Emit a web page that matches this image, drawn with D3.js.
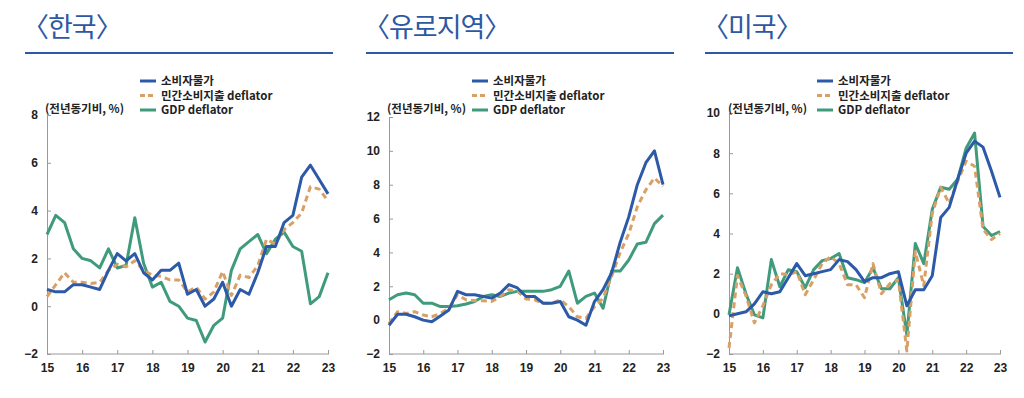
<!DOCTYPE html>
<html>
<head>
<meta charset="utf-8">
<script src="https://cdn.jsdelivr.net/npm/d3@7"></script>
<style>
  body { margin: 0; background: #fff; }
  svg { display: block; font-family: "Noto Sans CJK KR", "Noto Sans", sans-serif; }
  .tick text { font-size: 12px; font-weight: 700; fill: #222; }
  .domain, .tick line { stroke: #999; }
</style>
</head>
<body>
<div id="chart"></div>
<script>
// quarterly, 2015Q1 ~ 2023Q1 (전년동기비, %)
var legendNames = ["소비자물가", "민간소비지출 deflator", "GDP deflator"];
var xTicks = [15, 16, 17, 18, 19, 20, 21, 22, 23];

var krCpi = [0.7, 0.6, 0.6, 0.9, 0.9, 0.8, 0.7, 1.5, 2.2, 1.9, 2.2, 1.4, 1.1, 1.5, 1.5, 1.8, 0.5, 0.7, 0.0, 0.3, 1.0, 0.0, 0.7, 0.5, 1.4, 2.5, 2.5, 3.5, 3.8, 5.4, 5.9, 5.3, 4.7];
var krPce = [0.4, 0.9, 1.4, 1.0, 1.0, 0.95, 1.0, 1.5, 1.75, 1.65, 1.9, 1.5, 1.3, 1.25, 1.1, 1.1, 0.6, 0.8, 0.3, 0.6, 1.45, 0.45, 1.3, 1.2, 1.7, 2.8, 2.6, 3.2, 3.5, 3.9, 5.0, 4.9, 4.4];
var krGdp = [3.0, 3.8, 3.5, 2.4, 2.0, 1.9, 1.6, 2.4, 1.6, 1.7, 3.7, 1.8, 0.8, 1.0, 0.2, 0.0, -0.5, -0.6, -1.5, -0.8, -0.5, 1.5, 2.4, 2.7, 3.0, 2.2, 2.8, 3.1, 2.5, 2.3, 0.1, 0.4, 1.4];

var euCpi = [-0.3, 0.35, 0.35, 0.2, 0.0, -0.1, 0.25, 0.6, 1.7, 1.5, 1.5, 1.4, 1.3, 1.6, 2.1, 1.9, 1.4, 1.4, 1.0, 1.0, 1.1, 0.2, 0.0, -0.3, 1.1, 1.8, 2.8, 4.6, 6.1, 8.0, 9.3, 10.0, 8.0];
var euPce = [-0.2, 0.5, 0.4, 0.5, 0.3, 0.2, 0.4, 0.7, 1.5, 1.2, 1.15, 1.15, 1.1, 1.4, 1.8, 1.7, 1.25, 1.2, 1.0, 1.0, 1.2, 0.8, 0.2, 0.1, 0.8, 1.3, 2.6, 4.0, 5.1, 6.7, 7.7, 8.4, 7.9];
var euGdp = [1.2, 1.5, 1.6, 1.5, 1.0, 1.0, 0.8, 0.8, 0.85, 0.95, 1.1, 1.4, 1.5, 1.4, 1.6, 1.7, 1.7, 1.7, 1.7, 1.8, 2.0, 2.9, 1.0, 1.4, 1.6, 0.7, 2.9, 2.9, 3.55, 4.5, 4.6, 5.7, 6.2];

var usCpi = [-0.1, 0.0, 0.1, 0.5, 1.1, 1.0, 1.1, 1.8, 2.5, 1.9, 2.0, 2.1, 2.2, 2.7, 2.6, 2.2, 1.6, 1.8, 1.8, 2.0, 2.1, 0.4, 1.2, 1.2, 1.9, 4.8, 5.3, 6.7, 8.0, 8.6, 8.3, 7.1, 5.8];
var usPce = [-1.7, 1.9, 0.9, -0.45, 0.4, 1.45, 2.0, 1.95, 2.1, 0.95, 1.7, 2.5, 2.85, 2.5, 1.45, 1.45, 0.8, 2.5, 1.0, 1.5, 1.7, -1.85, 3.1, 1.4, 5.0, 6.3, 5.5, 6.6, 7.6, 7.35, 4.2, 3.7, 4.0];
var usGdp = [-0.05, 2.3, 1.0, -0.05, -0.2, 2.7, 1.35, 2.2, 2.1, 1.3, 2.2, 2.65, 2.75, 3.0, 1.8, 1.7, 1.55, 2.3, 1.25, 1.25, 1.8, -1.05, 3.5, 2.5, 5.2, 6.3, 6.2, 6.7, 8.25, 9.0, 4.35, 3.9, 4.1];

var colors = ["#2c5aa8", "#d9a066", "#3f9b7b"];
var titleColor = "#2d58a3";

var svg = d3.select("#chart").append("svg")
    .attr("width", 1024)
    .attr("height", 398);

// panel layout
var panels = [
    { title: "〈한국〉", series: [krCpi, krPce, krGdp], yDomain: [-2, 8], yTicks: [-2, 0, 2, 4, 6, 8],
      ruleX: [25, 333], axisLeft: 47, axisRight: 328, yTop: 115, legendX: 140, unitX: 45 },
    { title: "〈유로지역〉", series: [euCpi, euPce, euGdp], yDomain: [-2, 12], yTicks: [-2, 0, 2, 4, 6, 8, 10, 12],
      ruleX: [366, 674], axisLeft: 389, axisRight: 663, yTop: 117, legendX: 472, unitX: 387 },
    { title: "〈미국〉", series: [usCpi, usPce, usGdp], yDomain: [-2, 10], yTicks: [-2, 0, 2, 4, 6, 8, 10],
      ruleX: [705, 1013], axisLeft: 729, axisRight: 1000, yTop: 113, legendX: 817, unitX: 728 }
];
var yBottom = 354;

panels.forEach(function (p) {
    var g = svg.append("g");

    // title + rule
    g.append("text")
        .attr("x", p.ruleX[0] - 3)
        .attr("y", 37)
        .attr("fill", titleColor)
        .style("font-size", "27px")
        .style("letter-spacing", "-1px")
        .text(p.title);
    g.append("line")
        .attr("x1", p.ruleX[0]).attr("x2", p.ruleX[1])
        .attr("y1", 53).attr("y2", 53)
        .attr("stroke", titleColor)
        .attr("stroke-width", 2);

    var x = d3.scaleLinear().domain([15, 23]).range([p.axisLeft, p.axisRight]);
    var y = d3.scaleLinear().domain(p.yDomain).range([yBottom, p.yTop]);

    // axes
    g.append("g")
        .attr("transform", "translate(0," + yBottom + ")")
        .call(d3.axisBottom(x).tickValues(xTicks).tickSizeInner(-4).tickSizeOuter(0).tickPadding(9))
        .selectAll(".domain").attr("d", "M" + p.axisLeft + ",0H" + (p.axisRight + 1));
    g.append("g")
        .attr("transform", "translate(" + p.axisLeft + ",0)")
        .call(d3.axisLeft(y).tickValues(p.yTicks).tickSizeInner(-4).tickSizeOuter(0).tickPadding(9));

    // lines
    var line = d3.line()
        .x(function (d, i) { return x(15 + i / 4); })
        .y(function (d) { return y(d); });

    [2, 1, 0].forEach(function (k) {
        g.append("path")
            .datum(p.series[k])
            .attr("fill", "none")
            .attr("stroke", colors[k])
            .attr("stroke-width", 3)
            .attr("stroke-linejoin", "round")
            .style("stroke-dasharray", k == 1 ? "6,4" : null)
            .attr("d", line);
    });

    // unit label
    g.append("text")
        .attr("x", p.unitX)
        .attr("y", 113)
        .attr("fill", "#222")
        .style("font-size", "11.5px")
        .style("font-weight", 700)
        .text("(전년동기비, %)");

    // legend
    legendNames.forEach(function (name, k) {
        var ly = 81 + k * 14.5;
        g.append("line")
            .attr("x1", p.legendX).attr("x2", p.legendX + 16)
            .attr("y1", ly).attr("y2", ly)
            .attr("stroke", colors[k])
            .attr("stroke-width", 3)
            .style("stroke-dasharray", k == 1 ? "5,3" : null);
        g.append("text")
            .attr("x", p.legendX + 21)
            .attr("y", ly + 4)
            .attr("fill", "#222")
            .style("font-size", "11.5px")
            .style("font-weight", 700)
            .text(name);
    });
});
</script>
</body>
</html>
